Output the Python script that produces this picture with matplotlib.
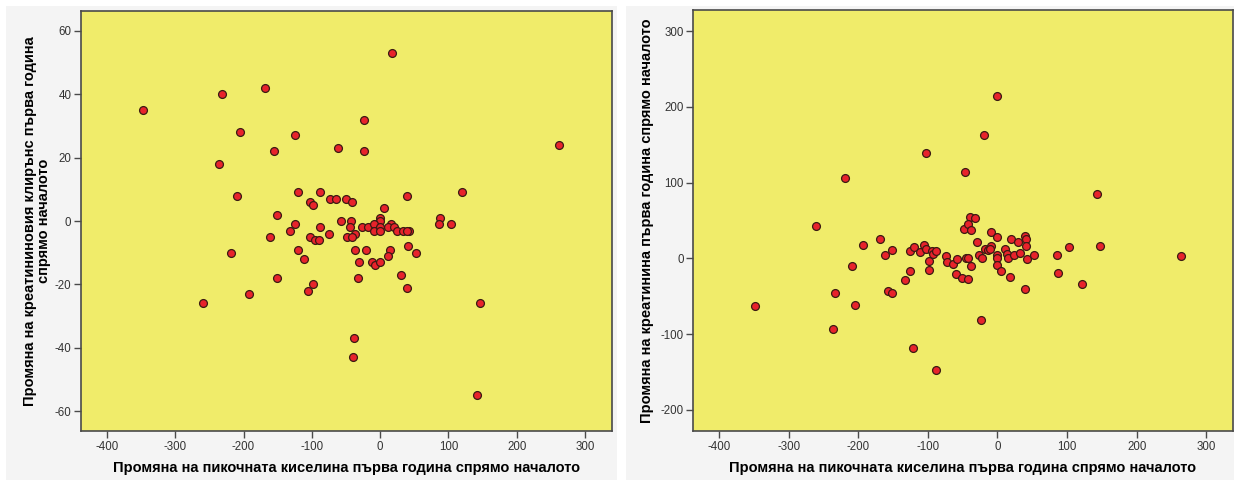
import matplotlib
matplotlib.use('Agg')
import matplotlib.pyplot as plt
from matplotlib.patches import Rectangle

plt.rcParams['font.family'] = ['Liberation Sans', 'DejaVu Sans']
plt.rcParams['axes.unicode_minus'] = False

# промяна на пикочната киселина / креатининов клирънс (лява графика)
uric_left = [-347, -232, -169, 18, -23, -205, -125, -61, -156, -23, 262, -236,
             -209, -120, -88, 39, 120, -103, -98, -74, -64, -50, -41, 6,
             -151, -57, -42, 0, 0, 87, 86, 103, -125, -132, -88, -44,
             -161, -75, -37, -48, -41, -102, -95, -89, -26, -18, -9, -9,
             0, 0, 16, 12, 20, 25, 33, 42, 39, -218, -120, -112,
             -37, -20, 14, 41, 53, -31, -12, -8, 0, 12, -151, -32,
             30, 39, -98, -105, -192, -260, 146, -39, -40, 142]
clearance = [35, 40, 42, 53, 32, 28, 27, 23, 22, 22, 24, 18,
             8, 9, 9, 8, 9, 6, 5, 7, 7, 7, 6, 4,
             2, 0, 0, 1, 0, 1, -1, -1, -1, -3, -2, -2,
             -5, -4, -4, -5, -5, -5, -6, -6, -2, -2, -1, -3,
             -2, -3, -1, -2, -2, -3, -3, -3, -3, -10, -9, -12,
             -9, -9, -9, -8, -10, -13, -13, -14, -13, -11, -18, -18,
             -17, -21, -20, -22, -23, -26, -26, -37, -43, -55]

# промяна на пикочната киселина / креатинин (дясна графика)
uric_right = [-348, -260, -219, -233, -237, -205, -209, -193, -169, -161, -157, -152,
              -151, -133, -126, -120, -125, -121, -112, -106, -103, -102, -98, -98,
              -94, -92, -89, -88, -74, -73, -64, -60, -58, -51, -42, -45,
              -43, -38, -47, -48, -40, -32, -42, -38, -30, -26, -22, -23,
              -20, -18, -13, -9, -11, -9, 0, 0, 0, 0, 0, 5,
              11, 14, 15, 18, 20, 24, 33, 30, 39, 41, 41, 43,
              39, 53, 85, 87, 103, 121, 143, 147, 263]
creatinine = [-63, 43, 106, -46, -93, -61, -10, 17, 25, 5, -43, -46,
              11, -29, 10, 15, -17, -118, 9, 17, 13, 139, -4, -15,
              10, 6, 10, -148, 3, -5, -7, -21, -1, -26, -27, 0,
              0, -10, 114, 39, 54, 53, 45, 38, 22, 5, 1, -82,
              163, 13, 11, 16, 13, 35, 214, 28, 4, 0, -9, -17,
              13, 6, 1, -24, 25, 5, 7, 22, 30, 25, 16, -1,
              -41, 4, 5, -19, 15, -34, 85, 16, 3]

xlabel = 'Промяна на пикочната киселина първа година спрямо началото'
ylabel_left = 'Промяна на креатининовия клирънс първа година\nспрямо началото'
ylabel_right = 'Промяна на креатинина първа година спрямо началото'

W, H = 1234, 484
fig = plt.figure(figsize=(W / 100, H / 100), dpi=100, facecolor='white')

# сиви подложки зад двете графики
for x0, x1 in [(6, 617), (626, 1234)]:
    fig.patches.append(Rectangle((x0 / W, 4 / H), (x1 - x0) / W, (478 - 4) / H,
                                 transform=fig.transFigure, facecolor='#f4f4f4',
                                 edgecolor='none', zorder=-10))

ax1 = fig.add_axes([81 / W, 1 - 431.3 / H, 530.7 / W, 420.6 / H])
ax2 = fig.add_axes([693.3 / W, 1 - 431 / H, 539.4 / W, 421 / H])
for ax in (ax1, ax2):
    ax.set_zorder(1)


def style_axes(ax):
    ax.set_facecolor('#f0ec6a')
    for side in ['left', 'bottom', 'top', 'right']:
        ax.spines[side].set_color('#4a4a4a')
        ax.spines[side].set_linewidth(1.2)
    ax.tick_params(axis='both', direction='out', length=5, width=1, color='#4a4a4a',
                   labelsize=8.3, labelcolor='#333333', pad=2, top=False, right=False)
    ax.set_xlim(-438, 339)
    ax.set_xticks([-400, -300, -200, -100, 0, 100, 200, 300])


def scatter(ax, x, y):
    ax.scatter(x, y, s=32, c='#e8232b', edgecolors='#3b1a12', linewidths=0.9, zorder=3)


style_axes(ax1)
scatter(ax1, uric_left, clearance)
ax1.set_ylim(-66.4, 66.4)
ax1.set_yticks([-60, -40, -20, 0, 20, 40, 60])
ax1.set_xlabel(xlabel, fontsize=10.5, fontweight='bold', va='center')
ax1.xaxis.set_label_coords(0.5, -0.087)
ax1.set_ylabel(ylabel_left, fontsize=10.5, fontweight='bold', va='center',
               multialignment='center', linespacing=1.05)
ax1.yaxis.set_label_coords(-0.083, 0.5)

style_axes(ax2)
scatter(ax2, uric_right, creatinine)
ax2.set_xlim(-437, 338)
ax2.set_ylim(-228, 328)
ax2.set_yticks([-200, -100, 0, 100, 200, 300])
ax2.set_xlabel(xlabel, fontsize=10.5, fontweight='bold', va='center')
ax2.xaxis.set_label_coords(0.5, -0.087)
ax2.set_ylabel(ylabel_right, fontsize=10.5, fontweight='bold', va='center')
ax2.yaxis.set_label_coords(-0.0858, 0.5)

fig.savefig('out.png', dpi=100, facecolor='white')
